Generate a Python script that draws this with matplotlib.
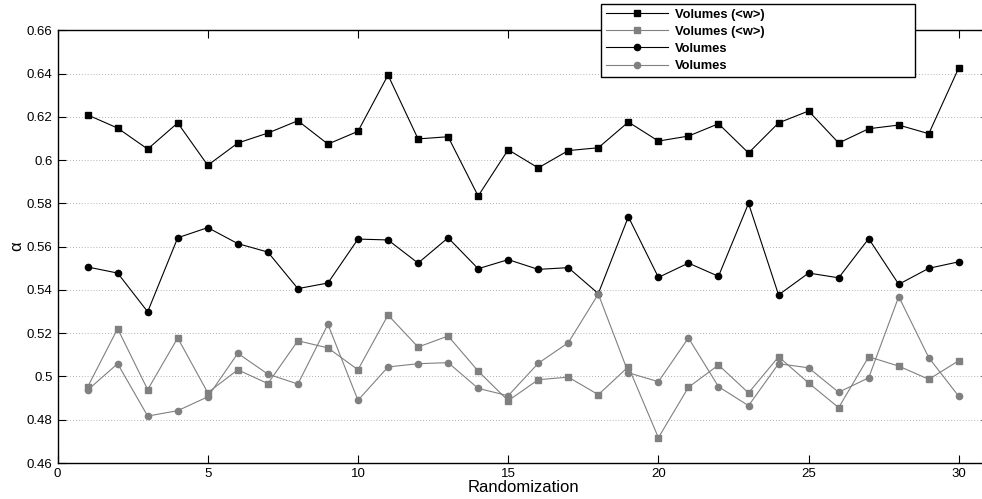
import matplotlib
matplotlib.use('Agg')
import matplotlib.pyplot as plt
from matplotlib.ticker import FuncFormatter

plt.rcParams['font.family'] = ['Liberation Sans', 'DejaVu Sans']

runs = list(range(1, 31))

# Volumes (<w>), black squares
vol_w_black = [0.6209, 0.6148, 0.6051, 0.6172, 0.5976, 0.6079, 0.6125, 0.6182, 0.6074, 0.6133,
               0.6393, 0.6098, 0.6108, 0.5834, 0.6048, 0.5964, 0.6044, 0.6057, 0.6176, 0.6088,
               0.6111, 0.6168, 0.6033, 0.6172, 0.6227, 0.6079, 0.6145, 0.6162, 0.6122, 0.6427]
# Volumes (<w>), gray squares
vol_w_gray = [0.4951, 0.5221, 0.4939, 0.5178, 0.4925, 0.5031, 0.4967, 0.5165, 0.5132, 0.5031,
              0.5284, 0.5136, 0.5187, 0.5025, 0.4888, 0.4985, 0.4997, 0.4916, 0.5045, 0.4717,
              0.4950, 0.5053, 0.4924, 0.5091, 0.4970, 0.4856, 0.5091, 0.5048, 0.4987, 0.5073]
# Volumes, black circles
vol_black = [0.5506, 0.5478, 0.5299, 0.5641, 0.5688, 0.5614, 0.5575, 0.5406, 0.5432, 0.5635,
             0.5631, 0.5524, 0.5641, 0.5498, 0.5540, 0.5495, 0.5503, 0.5383, 0.5738, 0.5458,
             0.5524, 0.5463, 0.5800, 0.5377, 0.5478, 0.5456, 0.5637, 0.5426, 0.5500, 0.5530]
# Volumes, gray circles
vol_gray = [0.4937, 0.5059, 0.4817, 0.4842, 0.4906, 0.5107, 0.5011, 0.4965, 0.5241, 0.4890,
            0.5044, 0.5059, 0.5064, 0.4945, 0.4911, 0.5061, 0.5156, 0.5381, 0.5017, 0.4976,
            0.5178, 0.4953, 0.4865, 0.5059, 0.5040, 0.4927, 0.4994, 0.5369, 0.5087, 0.4908]

gray = '#808080'

fig = plt.figure(figsize=(9.82, 4.99), dpi=100)
ax = fig.add_axes([0.0586, 0.0721, 0.9484, 0.8672])

ax.plot(runs, vol_w_black, color='black', lw=0.8, marker='s', ms=4.5, label='Volumes (<w>)')
ax.plot(runs, vol_w_gray, color=gray, lw=0.8, marker='s', ms=4.5, label='Volumes (<w>)')
ax.plot(runs, vol_black, color='black', lw=0.8, marker='o', ms=4.5, label='Volumes')
ax.plot(runs, vol_gray, color=gray, lw=0.8, marker='o', ms=4.5, label='Volumes')

ax.set_xlim(0, 31)
ax.set_ylim(0.46, 0.66)
ax.set_xticks(range(0, 31, 5))
ax.set_yticks([0.46 + 0.02 * i for i in range(11)])
ax.yaxis.set_major_formatter(FuncFormatter(lambda v, p: '%g' % round(v, 2)))
ax.tick_params(direction='in', top=True, right=True, length=6, width=0.8, labelsize=9.5)
ax.yaxis.grid(True, linestyle=(0, (1, 2.5)), color='#999999', lw=0.6)
for s in ax.spines.values():
    s.set_linewidth(1.0)

ax.set_xlabel('Randomization', fontsize=12, labelpad=0)
ax.set_ylabel('α', fontsize=12, labelpad=2)

# legend box spans a fixed area like the original (wider than its text)
leg = ax.legend(loc='upper left', bbox_to_anchor=(0.612, 0.848, 0.32, 0.144),
                bbox_transform=fig.transFigure, mode='expand',
                prop={'weight': 'bold', 'size': 9.3}, frameon=True, fancybox=False,
                edgecolor='black', framealpha=1, handlelength=4.8, labelspacing=0.4,
                borderpad=0.35, handletextpad=0.6, borderaxespad=0)
leg.get_frame().set_linewidth(1.0)

fig.savefig('out.png', dpi=100)
